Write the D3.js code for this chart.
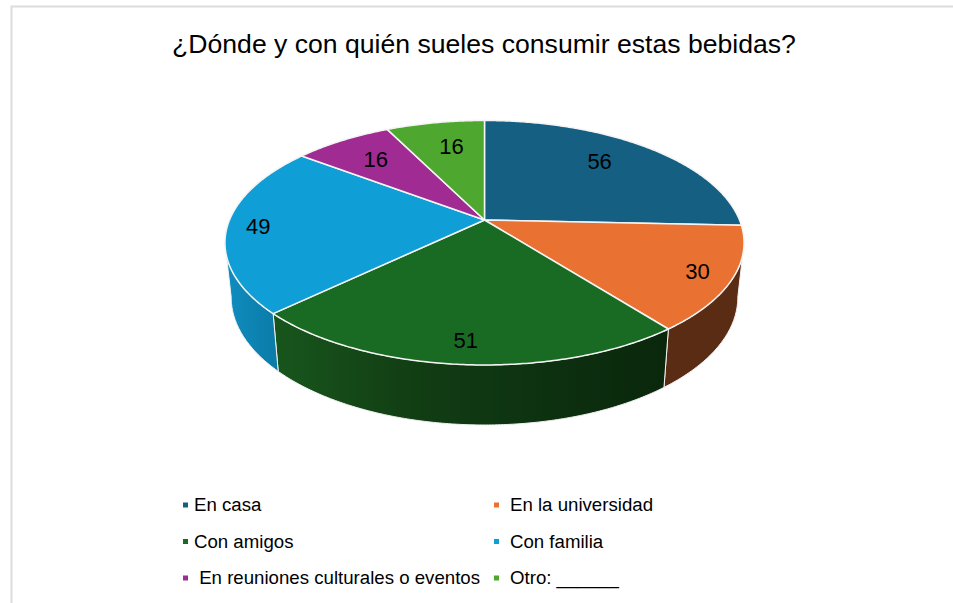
<!DOCTYPE html>
<html>
<head>
<meta charset="utf-8">
<script src="https://cdn.jsdelivr.net/npm/d3@7"></script>
<style>
    html, body {margin: 0; padding: 0; background: #fff; overflow: hidden;}
    text {font-family: "Liberation Sans", Arial, sans-serif; fill: #000;}
</style>
</head>
<body>
<div id="graph-placeholder"></div>
<script>
var categories = ["En casa", "En la universidad", "Con amigos", "Con familia", " En reuniones culturales o eventos", "Otro: ______"];
var values = [56, 30, 51, 49, 16, 16];
var topColors = ["#156082", "#E97132", "#196B24", "#0F9ED5", "#A02B93", "#4EA72E"];

var width = 953,
    height = 603,
    apex = {x: 484.5, y: 220},
    persp = -0.186,      // tilt, near side of the disc gets bigger
    scaleX = 255,
    scaleY = 118,
    wallScaleX = 0.976,  // the lower disc is further from the eye
    wallScaleY = 1.045,
    wallDrop = 53.5;

// radius + angle nudge for each value label, the original has them hand placed
var labelPlace = [[0.74, -4], [0.87, 0], [0.855, 0], [0.88, 0], [0.74, 0], [0.72, 1.5]];

var legendCols = [183, 494],
    legendRows = [505, 541.5, 578];

// unit circle -> screen
var project = function (angle, r) {
    var x = r * Math.sin(angle),
        y = -r * Math.cos(angle),
        den = 1 + persp * y;
    return {x: scaleX * x / den, y: scaleY * y / den};
};

var topPoint = function (angle, r) {
    var p = project(angle, r);
    return [apex.x + p.x, apex.y + p.y];
};

var wallPoint = function (angle) {
    var p = project(angle, 1);
    return [apex.x + p.x * wallScaleX, apex.y + wallDrop + p.y * wallScaleY];
};

var arcAngles = function (start, end) {
    var n = Math.max(2, Math.ceil((end - start) / 0.01));
    return d3.range(n + 1).map(function (i) {
        return start + (end - start) * i / n;
    });
};

var line = d3.line();

var pie = d3.pie().sort(null).value(function (d) {
    return d;
});
var slices = pie(values);

var svg = d3.select("#graph-placeholder")
    .append("svg:svg")
    .attr("width", width)
    .attr("height", height)
    .style("display", "block");

// page frame
svg.append("path")
    .attr("d", line([[width, 6.5], [11.5, 6.5], [11.5, height]]))
    .attr("fill", "none")
    .attr("stroke", "#dcdcdc")
    .attr("stroke-width", 2);

svg.append("text")
    .attr("x", 484)
    .attr("y", 53)
    .attr("text-anchor", "middle")
    .style("font-size", "26.6px")
    .text("¿Dónde y con quién sueles consumir estas bebidas?");

// side shading
var defs = svg.append("defs");
var addGradient = function (id, x1, x2, stops) {
    var g = defs.append("linearGradient")
        .attr("id", id)
        .attr("gradientUnits", "userSpaceOnUse")
        .attr("x1", x1).attr("x2", x2)
        .attr("y1", 0).attr("y2", 0);
    stops.forEach(function (s, i) {
        g.append("stop")
            .attr("offset", i / (stops.length - 1))
            .attr("stop-color", s);
    });
};
addGradient("wall-green", 273, 668, ["#18561d", "#123f14", "#0d3210", "#0a270c"]);
addGradient("wall-blue", 226, 280, ["#0e8dbf", "#0c7aa6"]);
var wallFill = {1: "#5b2c14", 2: "url(#wall-green)", 3: "url(#wall-blue)"};

// only the part of the rim that faces us
var rimStart = Math.acos(-0.186),
    rimEnd = 2 * Math.PI - rimStart;

slices.forEach(function (d, i) {
    var start = Math.max(d.startAngle, rimStart),
        end = Math.min(d.endAngle, rimEnd);
    if (end <= start) return;

    var angles = arcAngles(start, end);
    var outline = angles.map(function (a) {
        return topPoint(a, 1);
    }).concat(angles.slice().reverse().map(wallPoint));

    svg.append("path")
        .attr("class", "wall")
        .attr("d", line(outline) + "Z")
        .attr("fill", wallFill[i])
        .attr("stroke", "#f2f2f2")
        .attr("stroke-width", 1);
});

// top of the disc
svg.selectAll(".slice")
    .data(slices)
    .enter()
    .append("path")
    .attr("class", "slice")
    .attr("d", function (d) {
        var pts = arcAngles(d.startAngle, d.endAngle).map(function (a) {
            return topPoint(a, 1);
        });
        return line([[apex.x, apex.y]].concat(pts)) + "Z";
    })
    .attr("fill", function (d, i) {
        return topColors[i];
    })
    .attr("stroke", "#f4f4f4")
    .attr("stroke-width", 1.5)
    .attr("stroke-linejoin", "round");

svg.selectAll(".value-label")
    .data(slices)
    .enter()
    .append("text")
    .attr("class", "value-label")
    .attr("transform", function (d, i) {
        var mid = (d.startAngle + d.endAngle) / 2 + labelPlace[i][1] * Math.PI / 180;
        var p = topPoint(mid, labelPlace[i][0]);
        return "translate(" + p[0] + "," + p[1] + ")";
    })
    .attr("text-anchor", "middle")
    .attr("dy", "0.36em")
    .style("font-size", "22px")
    .text(function (d) {
        return d.data;
    });

// legend
var legend = svg.selectAll(".legend-item")
    .data(categories)
    .enter()
    .append("g")
    .attr("class", "legend-item")
    .attr("transform", function (d, i) {
        return "translate(" + legendCols[i % 2] + "," + legendRows[Math.floor(i / 2)] + ")";
    });

legend.append("rect")
    .attr("x", 0)
    .attr("y", -2.5)
    .attr("width", 5)
    .attr("height", 5)
    .attr("fill", function (d, i) {
        return topColors[i];
    });

legend.append("text")
    .attr("x", function (d, i) {
        return i % 2 ? 16 : 11;
    })
    .attr("y", 6)
    .attr("xml:space", "preserve")
    .style("white-space", "pre")
    .style("font-size", "18.65px")
    .text(function (d) {
        return d;
    });
</script>
</body>
</html>
